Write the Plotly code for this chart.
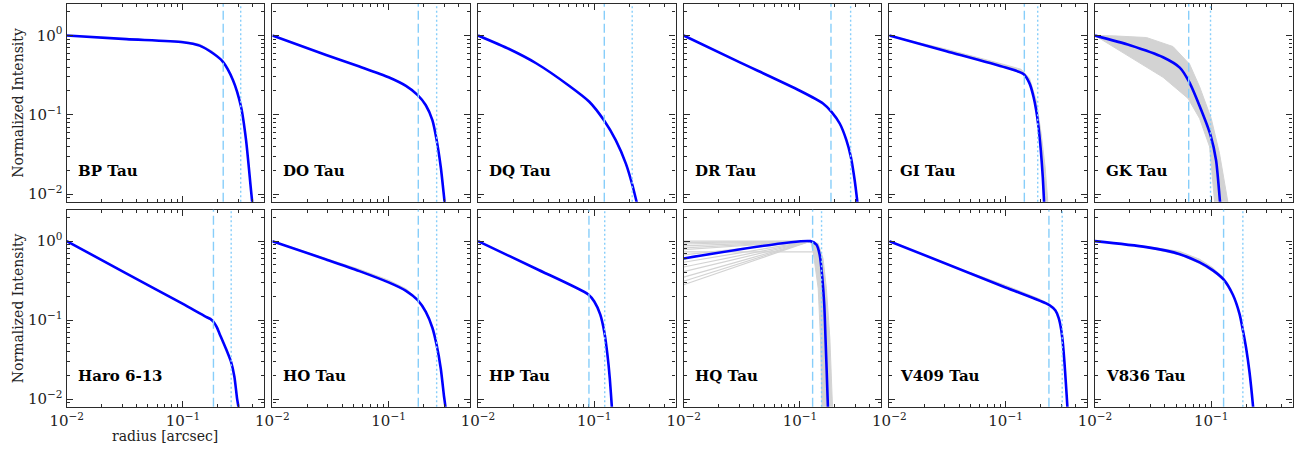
import plotly.graph_objects as go

# ---------------- data ----------------
names = ["BP Tau", "DO Tau", "DQ Tau", "DR Tau", "GI Tau", "GK Tau",
         "Haro 6-13", "HO Tau", "HP Tau", "HQ Tau", "V409 Tau", "V836 Tau"]

# radius [arcsec] and normalized intensity of the best-fit (blue) profile
bp_r = [0.01, 0.0327, 0.1, 0.139, 0.181, 0.220, 0.269, 0.316, 0.349, 0.385, 0.407]
bp_i = [1.0, 0.90, 0.824, 0.746, 0.597, 0.469, 0.275, 0.126, 0.0479, 0.0112, 0.005]
do_r = [0.01, 0.029, 0.0561, 0.1, 0.141, 0.178, 0.209, 0.238, 0.259, 0.281, 0.300, 0.313]
do_i = [1.0, 0.569, 0.406, 0.297, 0.231, 0.177, 0.132, 0.0855, 0.0479, 0.0219, 0.00912, 0.005]
dq_r = [0.01, 0.0187, 0.0316, 0.0611, 0.0906, 0.122, 0.153, 0.187, 0.213, 0.235, 0.250]
dq_i = [1.0, 0.671, 0.447, 0.231, 0.146, 0.0839, 0.0478, 0.0242, 0.0129, 0.00724, 0.005]
dr_r = [0.01, 0.0286, 0.1, 0.158, 0.187, 0.220, 0.251, 0.274, 0.296, 0.312, 0.324]
dr_i = [1.0, 0.478, 0.201, 0.139, 0.109, 0.0776, 0.0479, 0.0295, 0.0148, 0.00794, 0.005]
gi_r = [0.01, 0.031, 0.1, 0.1426, 0.1607, 0.1738, 0.1832, 0.1919, 0.2009, 0.2089, 0.2143, 0.2178]
gi_i = [1.0, 0.634, 0.394, 0.327, 0.249, 0.169, 0.1146, 0.0705, 0.0357, 0.0164, 0.00794, 0.005]
gk_r = [0.01, 0.02, 0.0385, 0.0536, 0.0644, 0.0794, 0.0986, 0.110, 0.119, 0.123]
gk_i = [1.0, 0.755, 0.532, 0.394, 0.262, 0.129, 0.0553, 0.0267, 0.00794, 0.005]
haro_r = [0.01, 0.0316, 0.1, 0.158, 0.172, 0.183, 0.195, 0.206, 0.235, 0.259, 0.277, 0.292, 0.300, 0.310]
haro_i = [1.0, 0.40, 0.160, 0.110, 0.1035, 0.0953, 0.082, 0.0678, 0.0430, 0.0297, 0.0192, 0.0102, 0.008, 0.005]
ho_r = [0.01, 0.029, 0.0561, 0.1, 0.141, 0.178, 0.209, 0.238, 0.259, 0.281, 0.300, 0.308, 0.315]
ho_i = [1.0, 0.586, 0.417, 0.300, 0.235, 0.179, 0.127, 0.080, 0.0483, 0.0244, 0.0107, 0.008, 0.005]
hp_r = [0.01, 0.0316, 0.0889, 0.1, 0.1125, 0.122, 0.130, 0.136, 0.1416, 0.145]
hp_i = [1.0, 0.447, 0.211, 0.172, 0.118, 0.0705, 0.0357, 0.0183, 0.008, 0.005]
hq_r = [0.01, 0.1233, 0.139, 0.148, 0.156, 0.162, 0.166, 0.170, 0.174, 0.176]
hq_i = [0.604, 1.0, 0.90, 0.665, 0.336, 0.155, 0.0586, 0.0222, 0.008, 0.005]
v409_r = [0.01, 0.1, 0.238, 0.2685, 0.2864, 0.300, 0.310, 0.3206, 0.331, 0.340, 0.345]
v409_i = [1.0, 0.259, 0.155, 0.132, 0.106, 0.0776, 0.0532, 0.0297, 0.0149, 0.008, 0.005]
v836_r = [0.01, 0.0277, 0.0536, 0.0794, 0.1033, 0.1276, 0.1535, 0.175, 0.1866, 0.1995, 0.2133, 0.229, 0.235]
v836_i = [1.0, 0.839, 0.684, 0.537, 0.426, 0.327, 0.209, 0.120, 0.0762, 0.0443, 0.022, 0.008, 0.005]

# grey posterior spread: upper and lower envelopes
bp_band_r = [0.0327, 0.1, 0.139, 0.181, 0.220]
bp_band_hi = [0.91, 0.85, 0.78, 0.63, 0.47]
bp_band_lo = [0.90, 0.824, 0.746, 0.597, 0.469]

gi_hi_r = [0.01, 0.031, 0.1, 0.136, 0.1607, 0.1832, 0.2023, 0.2188, 0.2307, 0.233]
gi_hi_i = [1.0, 0.671, 0.426, 0.375, 0.288, 0.153, 0.058, 0.022, 0.008, 0.005]

gk_hi_r = [0.01, 0.01436, 0.0277, 0.0469, 0.0652, 0.0794, 0.1, 0.1178, 0.139, 0.1435]
gk_hi_i = [1.0, 0.991, 0.944, 0.726, 0.434, 0.226, 0.0899, 0.0324, 0.00794, 0.005]
gk_lo_r = [0.01, 0.02, 0.0385, 0.0631, 0.0794, 0.0968, 0.107, 0.110]
gk_lo_i = [1.0, 0.542, 0.297, 0.161, 0.0899, 0.0394, 0.00794, 0.005]

ho_band_r = [0.01, 0.029, 0.0561, 0.1, 0.141, 0.178, 0.209]
ho_band_hi = [1.0, 0.60, 0.44, 0.32, 0.25, 0.185, 0.13]
ho_band_lo = [1.0, 0.586, 0.417, 0.300, 0.235, 0.179, 0.127]

hq_fan_start = [1.0, 0.96, 0.92, 0.87, 0.82, 0.78, 0.67, 0.54, 0.47, 0.41, 0.35, 0.31, 0.28]
hq_fan_peak_r = 0.123
hq_flat_r = [0.01, 0.139]
hq_flat_i = [0.733, 0.733]
hq_hi_r = [0.1233, 0.1436, 0.158, 0.169, 0.181, 0.1905, 0.193]
hq_hi_i = [1.0, 0.934, 0.604, 0.252, 0.058, 0.008, 0.005]
hq_lo_r = [0.1233, 0.130, 0.1436, 0.1503, 0.1545, 0.156]
hq_lo_i = [1.0, 0.733, 0.252, 0.058, 0.008, 0.005]

v409_band_r = [0.05, 0.1, 0.2, 0.238]
v409_band_hi = [0.40, 0.275, 0.183, 0.158]
v409_band_lo = [0.388, 0.259, 0.172, 0.155]

v836_band_r = [0.0277, 0.0536, 0.0794, 0.1033, 0.1276, 0.1535]
v836_band_hi = [0.86, 0.74, 0.59, 0.46, 0.34, 0.21]
v836_band_lo = [0.83, 0.67, 0.52, 0.41, 0.32, 0.207]

# characteristic radii (dashed and dotted vertical lines)
dash_r = [0.222, 0.180, 0.122, 0.185, 0.145, 0.064, 0.183, 0.180, 0.090, 0.1286, 0.236, 0.1277]
dot_r = [0.314, 0.259, 0.212, 0.273, 0.189, 0.0986, 0.260, 0.259, 0.123, 0.1535, 0.307, 0.187]

profiles_r = [bp_r, do_r, dq_r, dr_r, gi_r, gk_r, haro_r, ho_r, hp_r, hq_r, v409_r, v836_r]
profiles_i = [bp_i, do_i, dq_i, dr_i, gi_i, gk_i, haro_i, ho_i, hp_i, hq_i, v409_i, v836_i]

# ---------------- figure ----------------
W, H = 1301, 451
FONT = "DejaVu Serif"
GREY = "#d3d3d3"
BLUE = "#0000ff"
SKY = "#87cefa"
EDGE = "#2b2b2b"

left0, pitch, pw = 66.7, 205.66, 197.5
rows_px = [(4.0, 201.7), (209.7, 406.7)]

fig = go.Figure()
layout = dict(width=W, height=H, margin=dict(l=0, r=0, t=0, b=0, autoexpand=False),
              paper_bgcolor="white", plot_bgcolor="white", showlegend=False,
              font=dict(family=FONT, size=13, color="#222"))

minor_x = [m * 10 ** e for e in (-3, -2, -1, 0) for m in range(2, 10)]
annotations = []
shapes = []
TICKTEXT = ["10<sup>\u22122</sup>", "10<sup>\u22121</sup>", "10<sup>0</sup>"]


def axis_name(k, letter):
    return letter + ("axis" if k == 0 else "axis%d" % (k + 1))


def ref(k, letter):
    return letter + ("" if k == 0 else str(k + 1))


def add_band(k, rr, ii):
    fig.add_trace(go.Scatter(x=rr, y=ii, mode="lines", fill="toself", fillcolor=GREY,
                             line=dict(color=GREY, width=1), hoverinfo="skip",
                             xaxis=ref(k, "x"), yaxis=ref(k, "y")))


for k in range(12):
    row, col = divmod(k, 6)
    x0 = left0 + col * pitch
    top, bot = rows_px[row]
    common = dict(type="log", automargin=False,
                  showline=True, linecolor=EDGE, linewidth=1.3, mirror="allticks",
                  ticks="inside", ticklen=6, tickwidth=1, tickcolor=EDGE,
                  tickmode="array", tickvals=[0.01, 0.1, 1], ticktext=TICKTEXT,
                  tickfont=dict(family=FONT, size=15, color="#222"),
                  showgrid=False, zeroline=False,
                  minor=dict(ticks="inside", ticklen=3, tickwidth=1, tickcolor=EDGE,
                             tickmode="array", tickvals=minor_x, showgrid=False))
    xa = dict(common, range=[-2, -0.301], domain=[x0 / W, (x0 + pw) / W],
              anchor=ref(k, "y"), showticklabels=(row == 1))
    ya = dict(common, range=[-2.097, 0.398], domain=[1 - bot / H, 1 - top / H],
              anchor=ref(k, "x"), showticklabels=(col == 0))
    layout[axis_name(k, "x")] = xa
    layout[axis_name(k, "y")] = ya

    # grey spreads
    if k == 0:
        add_band(k, bp_band_r + bp_band_r[::-1], bp_band_hi + bp_band_lo[::-1])
    if k == 4:
        add_band(k, gi_hi_r + gi_r[::-1], gi_hi_i + gi_i[::-1])
    if k == 5:
        add_band(k, gk_hi_r + gk_lo_r[::-1], gk_hi_i + gk_lo_i[::-1])
    if k == 7:
        add_band(k, ho_band_r + ho_band_r[::-1], ho_band_hi + ho_band_lo[::-1])
    if k == 9:
        for v in hq_fan_start:
            fig.add_trace(go.Scatter(x=[0.01, hq_fan_peak_r], y=[v, 1.0], mode="lines",
                                     line=dict(color=GREY, width=1.2), hoverinfo="skip",
                                     xaxis=ref(k, "x"), yaxis=ref(k, "y")))
        fig.add_trace(go.Scatter(x=hq_flat_r, y=hq_flat_i, mode="lines",
                                 line=dict(color=GREY, width=1.2), hoverinfo="skip",
                                 xaxis=ref(k, "x"), yaxis=ref(k, "y")))
        add_band(k, hq_hi_r + hq_lo_r[::-1], hq_hi_i + hq_lo_i[::-1])
    if k == 10:
        add_band(k, v409_band_r + v409_band_r[::-1], v409_band_hi + v409_band_lo[::-1])
    if k == 11:
        add_band(k, v836_band_r + v836_band_r[::-1], v836_band_hi + v836_band_lo[::-1])

    # best-fit profile
    fig.add_trace(go.Scatter(x=profiles_r[k], y=profiles_i[k], mode="lines",
                             line=dict(color=BLUE, width=2.6, shape="spline", smoothing=0.7),
                             hoverinfo="skip", xaxis=ref(k, "x"), yaxis=ref(k, "y")))

    # characteristic radii
    shapes.append(dict(type="line", xref=ref(k, "x"), yref=ref(k, "y") + " domain",
                       x0=dash_r[k], x1=dash_r[k], y0=0, y1=1, layer="above",
                       line=dict(color=SKY, width=1.4, dash="9px,4px")))
    shapes.append(dict(type="line", xref=ref(k, "x"), yref=ref(k, "y") + " domain",
                       x0=dot_r[k], x1=dot_r[k], y0=0, y1=1, layer="above",
                       line=dict(color=SKY, width=1.4, dash="2px,2.5px")))

    # panel label
    annotations.append(dict(text="<b>%s</b>" % names[k], xref=ref(k, "x") + " domain",
                            yref=ref(k, "y") + " domain", x=0.045, y=0.155,
                            xanchor="left", yanchor="middle", showarrow=False,
                            font=dict(family=FONT, size=15, color="black")))

# axis titles
for top, bot in rows_px:
    annotations.append(dict(text="Normalized Intensity", xref="paper", yref="paper",
                            x=18 / W, y=1 - (top + bot) / 2 / H, textangle=-90,
                            xanchor="center", yanchor="middle", showarrow=False,
                            font=dict(family=FONT, size=14, color="#222")))
annotations.append(dict(text="radius [arcsec]", xref="paper", yref="paper",
                        x=(left0 + pw / 2) / W, y=1 - 436 / H,
                        xanchor="center", yanchor="middle", showarrow=False,
                        font=dict(family=FONT, size=14, color="#222")))

layout["annotations"] = annotations
layout["shapes"] = shapes
fig.update_layout(**layout)
fig.write_html("out.html", config={"displayModeBar": False},
               post_script="document.body.style.margin='0';")
